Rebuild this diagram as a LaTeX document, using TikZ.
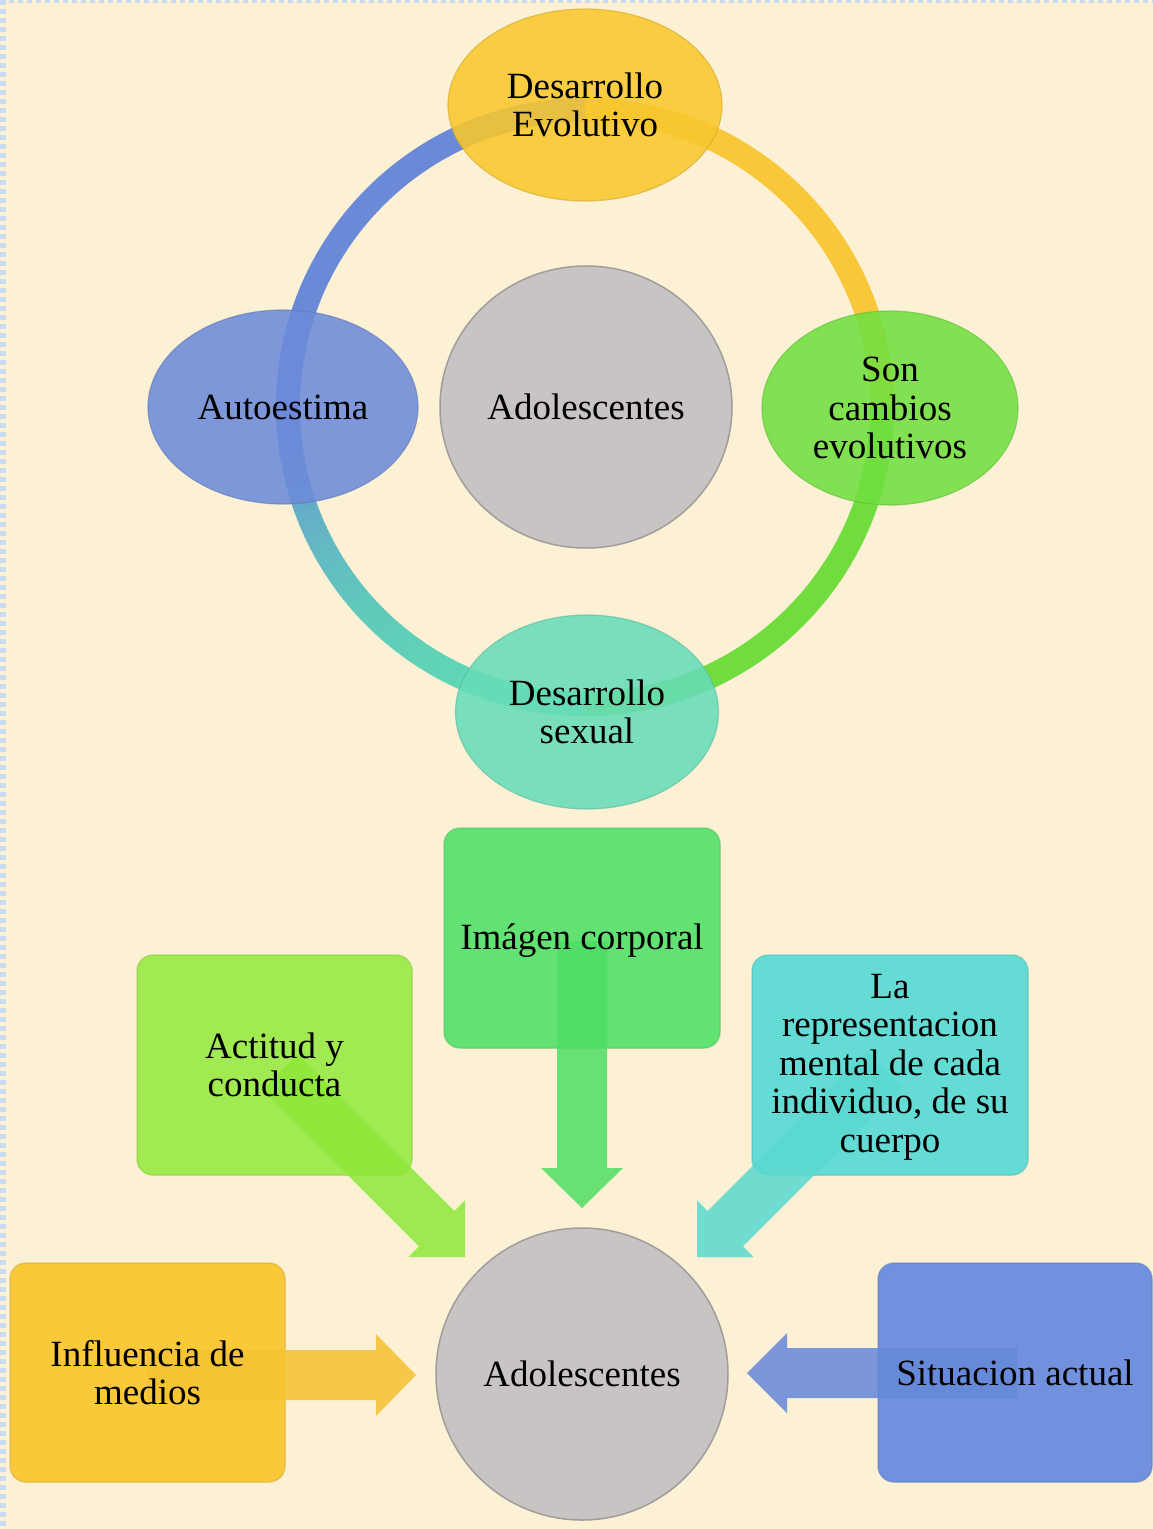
\documentclass[tikz,border=0pt]{standalone}
\usepackage{fontspec}
\setmainfont{Liberation Serif}
\usetikzlibrary{shapes.geometric,calc}
\definecolor{bgc}{HTML}{FCF0D5}
\definecolor{bord}{HTML}{C9DBF2}
\definecolor{cyel}{HTML}{F9C82E}
\definecolor{cblue}{HTML}{6C8BDA}
\definecolor{cgray}{HTML}{C8C4C4}
\definecolor{cgreen}{HTML}{70DF40}
\definecolor{cteal}{HTML}{66DCB8}
\definecolor{ryel}{HTML}{F8C73A}
\definecolor{rblue}{HTML}{6A8AD8}
\definecolor{rgreen}{HTML}{70DC3E}
\definecolor{rteal}{HTML}{5FD9B4}
\definecolor{bimg}{HTML}{62E272}
\definecolor{aimg}{HTML}{4FDE64}
\definecolor{bact}{HTML}{A2EA52}
\definecolor{aact}{HTML}{8EE83A}
\definecolor{brep}{HTML}{64DBD5}
\definecolor{arep}{HTML}{5AD8D0}
\definecolor{binf}{HTML}{F9C93A}
\definecolor{ainf}{HTML}{F6C232}
\definecolor{bsit}{HTML}{7191DE}
\definecolor{asit}{HTML}{6688DA}
\tikzset{
  lbl/.style={font=\fontsize{37}{38.5}\selectfont, align=center, text=black, inner sep=0},
  ell/.style={ellipse, draw=#1!85!black, line width=1.2, fill=#1, fill opacity=0.88, text opacity=1, draw opacity=0.6, inner sep=0, lbl},
  graycirc/.style={ellipse, draw=cgray!80!black, line width=1.5, fill=cgray, inner sep=0, lbl},
  boxnode/.style={rectangle, rounded corners=16, draw=#1!85!black, draw opacity=0.5, line width=1.5, fill=#1, inner sep=0},
  ringseg/.style={line width=24, #1},
  barrow/.style={fill=#1, fill opacity=0.85}
}
\newcommand{\blockarrow}[4]{%
  \coordinate (#1-#2-h) at ($(#2)!40pt!(#1)$);
  \fill[barrow=#3] ($(#1)!25pt!90:(#2)$) -- ($(#1-#2-h)!25pt!90:(#2)$) -- ($(#1-#2-h)!#4!90:(#2)$) -- (#2) -- ($(#1-#2-h)!#4!-90:(#2)$) -- ($(#1-#2-h)!25pt!-90:(#2)$) -- ($(#1)!25pt!-90:(#2)$) -- cycle;
}
\begin{document}
\begin{tikzpicture}[x=1pt,y=-1pt]
\useasboundingbox (0,0) rectangle (1153,1529);
\fill[bgc] (0,0) rectangle (1153,1529);
\draw[bord, line width=6, dash pattern=on 5pt off 4pt] (3,0) -- (3,1529);
\draw[bord, line width=3, dash pattern=on 5pt off 4pt] (0,1.5) -- (1153,1.5);

% ring
\coordinate (cen) at (585,407);
\draw[ringseg=ryel] (cen) ++(90:297pt) arc[start angle=90, end angle=0, radius=297pt];
\draw[ringseg=rgreen] (cen) ++(0:297pt) arc[start angle=0, end angle=-90, radius=297pt];
\draw[ringseg=rblue] (cen) ++(180:297pt) arc[start angle=180, end angle=90, radius=297pt];
\foreach \i in {0,...,35}{
  \pgfmathsetmacro\sa{-90-2.5*\i}
  \pgfmathsetmacro\ea{\sa-2.8}
  \pgfmathtruncatemacro\pct{100-100*(\i/35)^2.5}
  \draw[ringseg={rteal!\pct!rblue}] (cen) ++(\sa:297pt) arc[start angle=\sa, end angle=\ea, radius=297pt];
}

% ellipses
\node[ell=cyel, minimum width=274, minimum height=192] (devo) at (585,105) {Desarrollo\\Evolutivo};
\node[ell=cblue, minimum width=270, minimum height=194] (auto) at (283,407) {Autoestima};
\node[ell=cgreen, minimum width=256, minimum height=194] (camb) at (890,408) {Son\\cambios\\evolutivos};
\node[ell=cteal, minimum width=263, minimum height=194] (sex) at (587,712) {Desarrollo\\sexual};
\node[graycirc, minimum width=292, minimum height=282] (adol1) at (586,407) {Adolescentes};

% boxes
\node[boxnode=bimg, minimum width=276, minimum height=220] (imgbox) at (582,938) {};
\node[boxnode=bact, minimum width=275, minimum height=220] (actbox) at (274.5,1065) {};
\node[boxnode=brep, minimum width=276, minimum height=220] (repbox) at (890,1065) {};
\node[boxnode=binf, minimum width=275, minimum height=219] (infbox) at (147.5,1372.5) {};
\node[boxnode=bsit, minimum width=274, minimum height=219] (sitbox) at (1015,1372.5) {};
\node[graycirc, minimum width=292, minimum height=292] (adol2) at (582,1374) {};

% arrows
\coordinate (imgT) at (582,941);  \coordinate (imgH) at (582,1208);
\coordinate (actT) at (280,1072); \coordinate (actH) at (465,1257);
\coordinate (repT) at (885,1069); \coordinate (repH) at (697,1257);
\coordinate (infT) at (147,1375); \coordinate (infH) at (416,1375);
\coordinate (sitT) at (1017,1373); \coordinate (sitH) at (747,1373);
\blockarrow{imgT}{imgH}{aimg}{41pt}
\blockarrow{actT}{actH}{aact}{40pt}
\blockarrow{repT}{repH}{arep}{40pt}
\blockarrow{infT}{infH}{ainf}{41pt}
\blockarrow{sitT}{sitH}{asit}{40pt}

% labels
\node[lbl] (imgtxt) at (582,941) {Imágen corporal};
\node[lbl] (acttxt) at (actbox) {Actitud y\\conducta};
\node[lbl] (reptxt) at (890,1067) {La\\representacion\\mental de cada\\individuo, de su\\cuerpo};
\node[lbl] (inftxt) at (infbox) {Influencia de\\medios};
\node[lbl] (sittxt) at (sitbox) {Situacion actual};
\node[lbl] (adoltxt) at (adol2) {Adolescentes};
\end{tikzpicture}
\end{document}
